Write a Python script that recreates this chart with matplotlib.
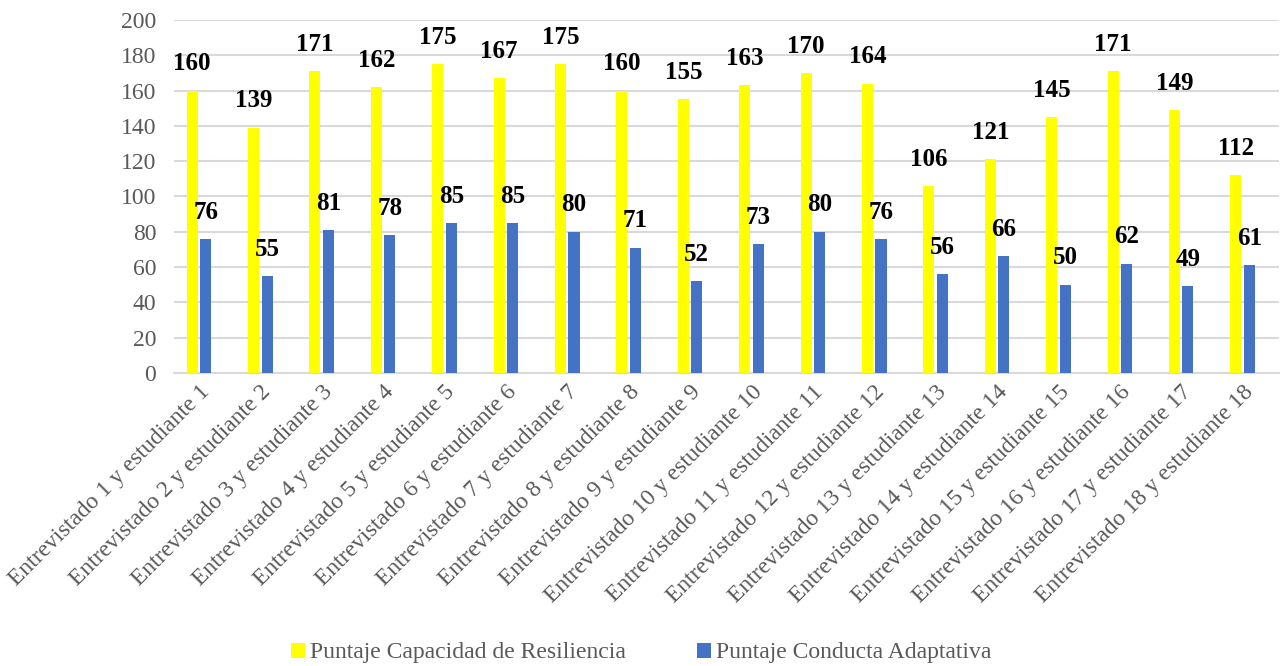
import numpy as np
import matplotlib.pyplot as plt

plt.rcParams['font.family'] = ['Liberation Serif', 'DejaVu Serif']

categorias = [f"Entrevistado {i} y estudiante {i}" for i in range(1, 19)]
resiliencia = [160, 139, 171, 162, 175, 167, 175, 160, 155, 163, 170, 164, 106, 121, 145, 171, 149, 112]
adaptativa = [76, 55, 81, 78, 85, 85, 80, 71, 52, 73, 80, 76, 56, 66, 50, 62, 49, 61]
yticks = list(range(0, 201, 20))

fig = plt.figure(figsize=(12.82, 6.66), dpi=100)
ax = fig.add_axes([0.136, 0.44, 0.862, 0.53])

x = np.arange(len(categorias))
w = 0.18
off = 0.11
b1 = ax.bar(x - off, resiliencia, w, color='#FFFF00', label='Puntaje Capacidad de Resiliencia', zorder=3)
b2 = ax.bar(x + off, adaptativa, w, color='#4472C4', label='Puntaje Conducta Adaptativa', zorder=3)

for bars in (b1, b2):
    ax.bar_label(bars, padding=11, fontsize=18, fontweight='bold', color='black')

ax.set_ylim(0, 200)
ax.set_xlim(-0.4, 17.6)
ax.set_yticks(yticks)
ax.yaxis.grid(True, color='#D9D9D9', linewidth=1.5, zorder=0)
ax.set_axisbelow(True)
for s in ('top', 'right', 'left'):
    ax.spines[s].set_visible(False)
ax.spines['bottom'].set_color('#D9D9D9')
ax.spines['bottom'].set_linewidth(1.5)
ax.tick_params(axis='both', length=0, labelsize=17, labelcolor='#595959')
ax.tick_params(axis='y', pad=13)
ax.tick_params(axis='x', pad=6)
ax.set_xticks(x)
ax.set_xticklabels(categorias, rotation=45, ha='right', rotation_mode='anchor')

fig.legend(handles=[b1, b2], loc='lower center', bbox_to_anchor=(0.5, -0.028), ncol=2,
           frameon=False, fontsize=17, handlelength=0.6, handleheight=0.6,
           handletextpad=0.2, columnspacing=3.0, labelcolor='#595959')

fig.savefig('out.png', dpi=100)
